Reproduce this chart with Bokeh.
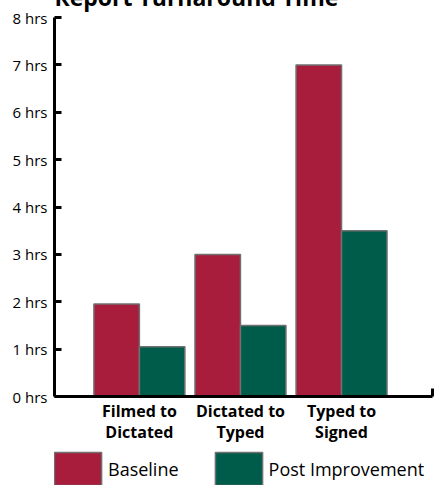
from bokeh.plotting import figure
from bokeh.layouts import column
from bokeh.models import (Range1d, FixedTicker, PrintfTickFormatter, Legend, LegendItem,
                          ColumnDataSource)
from bokeh.transform import dodge
from bokeh.embed import file_html
from bokeh.resources import INLINE

categories = ["Filmed to\nDictated", "Dictated to\nTyped", "Typed to\nSigned"]
series_names = ["Baseline", "Post Improvement"]
baseline = [1.95, 3.0, 7.0]
post_improvement = [1.05, 1.5, 3.5]
y_ticks = [0, 1, 2, 3, 4, 5, 6, 7, 8]

BASE_COLOR = "#A81D3C"
POST_COLOR = "#005C4A"
EDGE = "#707070"
FONT = "Open Sans"

xs = list(range(len(categories)))
src = ColumnDataSource(dict(x=xs, baseline=baseline, post=post_improvement))

p = figure(width=435, height=473, output_backend="svg", toolbar_location=None,
           x_range=Range1d(-0.84, 2.9), y_range=Range1d(0, 8),
           title="Report Turnaround Time")
p.min_border_left = 54
p.min_border_right = 3
p.min_border_top = 30
p.min_border_bottom = 50
p.outline_line_color = None
p.grid.visible = False
p.background_fill_color = "white"
p.border_fill_color = "white"

p.title.text_font = FONT
p.title.text_font_size = "23px"
p.title.text_font_style = "bold"
p.title.text_color = "black"
p.title.align = "left"
p.title.offset = 0
p.title.standoff = 10

r1 = p.vbar(x=dodge("x", -0.225, range=p.x_range), top="baseline", width=0.45, source=src,
            fill_color=BASE_COLOR, line_color=EDGE, line_width=1.5)
r2 = p.vbar(x=dodge("x", 0.225, range=p.x_range), top="post", width=0.45, source=src,
            fill_color=POST_COLOR, line_color=EDGE, line_width=1.5)

# y axis
ya = p.yaxis[0]
ya.ticker = FixedTicker(ticks=y_ticks, minor_ticks=[])
ya.formatter = PrintfTickFormatter(format="%d hrs")
ya.axis_line_width = 3
ya.axis_line_color = "black"
ya.major_tick_in = 7
ya.major_tick_out = 0
ya.major_tick_line_width = 3
ya.minor_tick_line_color = None
ya.major_label_text_font = FONT
ya.major_label_text_font_size = "15px"
ya.major_label_text_color = "black"
ya.major_label_standoff = 7

# x axis
xa = p.xaxis[0]
xa.ticker = FixedTicker(ticks=xs, minor_ticks=[p.x_range.end])
xa.major_label_overrides = {i: c for i, c in zip(xs, categories)}
xa.axis_line_width = 3
xa.axis_line_color = "black"
xa.major_tick_in = 0
xa.major_tick_out = 0
xa.minor_tick_in = 8
xa.minor_tick_out = 0
xa.minor_tick_line_width = 3
xa.minor_tick_line_color = "black"
xa.major_label_text_font = FONT
xa.major_label_text_font_size = "16px"
xa.major_label_text_font_style = "bold"
xa.major_label_text_color = "black"
xa.major_label_text_line_height = 0.96
xa.major_label_standoff = 3

# legend strip below the chart (its glyph renderers lie outside its visible range)
lf = figure(width=435, height=43, output_backend="svg", toolbar_location=None,
            x_axis_location=None, y_axis_location=None,
            x_range=Range1d(-0.84, 2.9), y_range=Range1d(100, 101),
            min_border_left=0, min_border_right=0, min_border_top=0, min_border_bottom=0)
lf.outline_line_color = None
lf.grid.visible = False
lf.background_fill_color = "white"
lf.border_fill_color = "white"
l1 = lf.vbar(x="x", top="baseline", width=0.45, source=src,
             fill_color=BASE_COLOR, line_color=EDGE, line_width=1.5)
l2 = lf.vbar(x="x", top="post", width=0.45, source=src,
             fill_color=POST_COLOR, line_color=EDGE, line_width=1.5)
legend = Legend(items=[LegendItem(label=series_names[0], renderers=[l1]),
                       LegendItem(label=series_names[1], renderers=[l2])],
                orientation="horizontal", location=(-6, 0),
                glyph_width=59, glyph_height=41, label_standoff=1, spacing=30,
                padding=0, margin=0, border_line_color=None, background_fill_alpha=0,
                label_text_font=FONT, label_text_font_size="18px", label_text_color="black")
lf.add_layout(legend)

layout = column(p, lf, spacing=0, margin=(-27, 0, 0, 0))
open("out.html", "w").write(file_html(layout, INLINE))
